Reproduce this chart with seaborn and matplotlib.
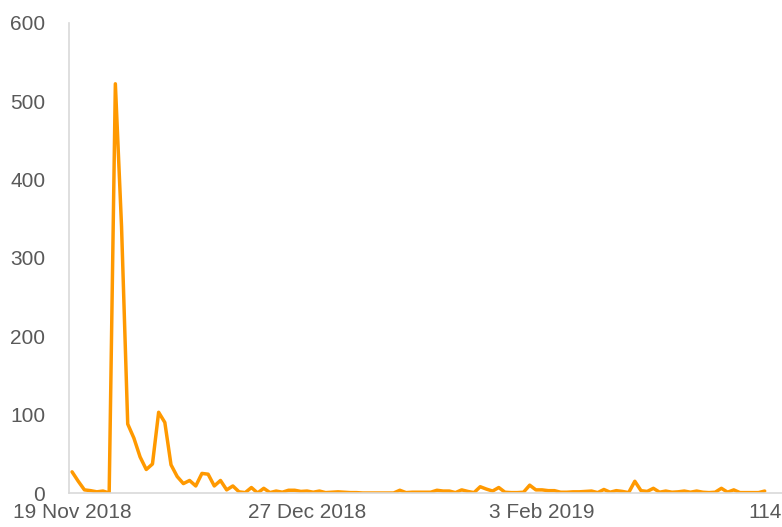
import matplotlib
matplotlib.use("Agg")
import matplotlib.pyplot as plt
import seaborn as sns
import pandas as pd
import numpy as np

# ---- data ----
start_date = "2018-11-19"
values = [27, 15, 4, 3, 1.5, 2.5, 0, 522, 340, 88,
          70, 46, 30, 37, 103, 90, 36, 21, 12, 16,
          9, 25, 24, 9, 16, 4, 9, 1.5, 0.5, 7,
          0, 6, 0.5, 2.5, 1, 3.5, 3.5, 2, 2.5, 1,
          2.5, 0.5, 1, 1.5, 1, 0.5, 0.5, 0, 0, 0,
          0, 0, 0, 3.5, 0.5, 1, 1, 1, 1, 3.5,
          2.5, 2.5, 0.5, 4, 2, 0.5, 8, 5, 2.5, 7,
          1, 0.5, 0.5, 1, 10, 4, 4, 3, 3, 1,
          1, 1.5, 1.5, 2, 2.5, 0.5, 4.5, 1, 3, 2,
          0.5, 15, 3, 2, 6, 1, 2.5, 1, 1.5, 2.5,
          1, 2.5, 1, 0.5, 1, 6, 1, 4, 0.5, 0.5,
          0.5, 0.5, 2.5]
tick_dates = ["2018-11-19", "2018-12-27", "2019-02-03", "2019-03-11"]
tick_labels = ["19 Nov 2018", "27 Dec 2018", "3 Feb 2019", "114"]
y_ticks = [0, 100, 200, 300, 400, 500, 600]

dates = pd.date_range(start_date, periods=len(values), freq="D")
df = pd.DataFrame({"date": dates, "value": values})

sns.set_theme(style="white")
plt.rcParams['font.family'] = ['Liberation Sans', 'DejaVu Sans']

fig = plt.figure(figsize=(7.82, 5.27), dpi=100)
ax = fig.add_axes([0.0882, 0.0645, 0.9118, 0.8925])

sns.lineplot(data=df, x="date", y="value", ax=ax, color="#FF9900",
             linewidth=2.5, solid_joinstyle="round", solid_capstyle="round")

t0 = pd.Timestamp(start_date)
ax.set_xlim(t0 - pd.Timedelta(hours=12), t0 + pd.Timedelta(days=114.8))
ax.set_ylim(0, 600)
ax.set_yticks(y_ticks)
ax.set_yticklabels([str(v) for v in y_ticks])
ax.set_xticks(pd.to_datetime(tick_dates))
ax.set_xticklabels(tick_labels)

ax.set_xlabel("")
ax.set_ylabel("")
for s in ["top", "right"]:
    ax.spines[s].set_visible(False)
for s in ["left", "bottom"]:
    ax.spines[s].set_color("#D9D9D9")
    ax.spines[s].set_linewidth(1.2)

ax.tick_params(axis="y", length=0, pad=17, labelsize=15, labelcolor="#595959")
ax.tick_params(axis="x", length=0, pad=7, labelsize=15, labelcolor="#595959")
ax.grid(False)

fig.savefig("out.png", dpi=100)
